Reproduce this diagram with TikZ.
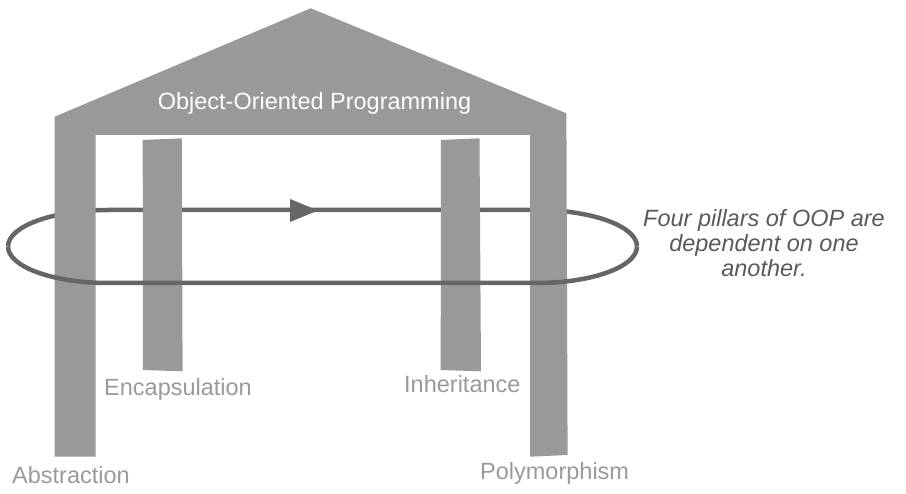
\documentclass[tikz,border=0pt]{standalone}
\usepackage{fontspec}
\setmainfont{Liberation Sans}
\definecolor{pillargray}{HTML}{999999}
\definecolor{loopgray}{HTML}{666666}
\definecolor{labelgray}{HTML}{9A9A9A}
\definecolor{notegray}{HTML}{5A5A5A}
\begin{document}
\begin{tikzpicture}[x=1pt,y=-1pt,
  pillar/.style={fill=pillargray, draw=none},
  loopline/.style={draw=loopgray, line width=4.5pt, line cap=butt},
  txt/.style={font=\fontsize{23.5}{28}\selectfont, inner sep=0pt},
  lbl/.style={txt, text=labelgray, anchor=base west},
  note/.style={txt, text=notegray, font=\fontsize{23.5}{28}\selectfont\itshape, anchor=base},
]
\useasboundingbox (0,0) rectangle (906,494);
% back half of the loop (behind the pillars)
\draw[loopline] (8,246.5) arc[start angle=180, end angle=270, x radius=100, y radius=36.5]
  -- (537,210) arc[start angle=270, end angle=360, x radius=100, y radius=36.5];
\fill[loopgray] (290,199) -- (318,210.5) -- (290,222) -- cycle;
% house with outer pillars
\fill[pillar] (54.7,456.7) -- (54.7,116.7) -- (310.7,8.3) -- (566.4,113.3) -- (567.6,455)
  -- (530,456.7) -- (530,135) -- (95.7,135) -- (95.7,456.7) -- cycle;
% inner pillars
\fill[pillar] (142.7,140) -- (181.8,138.3) -- (182.6,371.3) -- (143,370) -- cycle;
\fill[pillar] (440.9,140) -- (479.5,138.3) -- (481,371.3) -- (440.7,370) -- cycle;
% front half of the loop
\draw[loopline] (8,246.5) arc[start angle=180, end angle=90, x radius=100, y radius=36.5]
  -- (537,283) arc[start angle=90, end angle=0, x radius=100, y radius=36.5];
% texts
\node[txt, text=white, anchor=base] (title) at (314.5,110) {Object-Oriented Programming};
\node[lbl] (abs) at (12,483.3) {Abstraction};
\node[lbl] (enc) at (104,395.7) {Encapsulation};
\node[lbl] (inh) at (404,392.7) {Inheritance};
\node[lbl] (poly) at (480,479.3) {Polymorphism};
\node[note] (n1) at (764,226.7) {Four pillars of OOP are};
\node[note] (n2) at (764,251.5) {dependent on one};
\node[note] (n3) at (764,276.7) {another.};
\end{tikzpicture}
\end{document}
